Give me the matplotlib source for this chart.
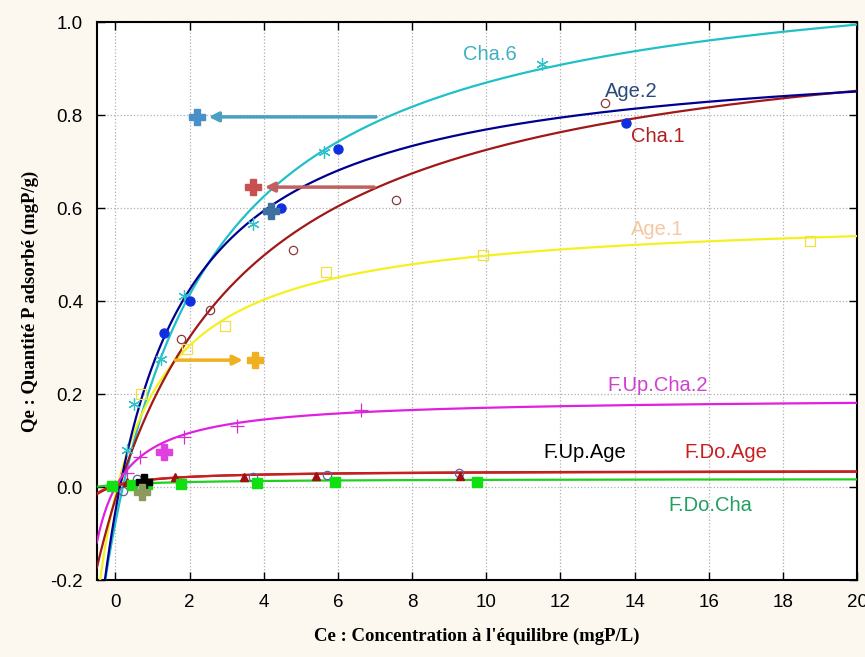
import numpy as np
import matplotlib.pyplot as plt

# points mesurés (Ce, Qe)
cha6_x = [0.3, 0.51, 1.24, 1.86, 3.7, 5.62, 11.49]
cha6_y = [0.08, 0.178, 0.275, 0.41, 0.566, 0.72, 0.91]
age2_x = [1.32, 2.0, 4.46, 6.0, 13.76]
age2_y = [0.331, 0.40, 0.60, 0.727, 0.783]
cha1_x = [1.78, 2.54, 4.78, 7.57, 13.2]
cha1_y = [0.318, 0.381, 0.51, 0.617, 0.826]
age1_x = [0.7, 1.92, 2.95, 5.68, 9.92, 18.73]
age1_y = [0.2, 0.297, 0.346, 0.462, 0.50, 0.529]
fupcha2_x = [0.3, 0.65, 1.86, 3.27, 6.62]
fupcha2_y = [0.03, 0.065, 0.107, 0.131, 0.166]
fupage_x = [0.2, 0.57, 3.7, 5.7, 9.25]
fupage_y = [-0.008, 0.017, 0.022, 0.025, 0.031]
fdoage_x = [0.32, 1.6, 3.46, 5.4, 9.3]
fdoage_y = [0.01, 0.021, 0.021, 0.024, 0.024]
fdocha_x = [-0.08, 0.46, 0.86, 1.78, 3.81, 5.92, 9.75]
fdocha_y = [0.002, 0.005, 0.006, 0.007, 0.009, 0.01, 0.01]

# ajustement Langmuir : Qm, K, C0
fit_cha6 = [1.157, 0.309, 0.2]
fit_age2 = [0.95, 0.43, 0.12]
fit_cha1 = [1.031, 0.2395, 0.1]
fit_age1 = [0.589, 0.548, 0.05]
fit_fupcha2 = [0.193, 0.762, 0.0]
fit_fupage = [0.036, 0.75, -0.1]
fit_fdoage = [0.035, 0.8, -0.15]
fit_fdocha = [0.018, 0.6, -0.6]

# croix épaisses + flèches (x, y)
cross_pts = [(2.19, 0.796), (3.7, 0.645), (4.2, 0.593), (3.76, 0.273),
             (1.3, 0.075), (0.77, 0.01), (0.72, -0.01)]
cross_col = ['#4a90c8', '#c85050', '#4070a0', '#f0b020',
             '#e040e0', '#000000', '#8a9a5a']
arrow_col = ['#4aa0c0', '#c06060', None, '#f0b020', None, None, None]
arrow_start = [(7.1, 0.796), (7.05, 0.645), None, (1.54, 0.273),
               None, None, None]


def langmuir(c, p):
    qm, k, c0 = p
    u = c - c0
    return qm * k * u / (1 + k * u)


plt.rcParams['font.family'] = ['Liberation Sans', 'DejaVu Sans']
fig = plt.figure(figsize=(8.65, 6.57), dpi=100, facecolor='#fcf8ef')
ax = fig.add_axes([0.112, 0.117, 0.879, 0.8495])
ax.set_facecolor('white')

xx = np.linspace(-0.5, 20, 600)
curves = [
    (fit_cha6, '#20c0c8'), (fit_age1, '#f5f020'), (fit_cha1, '#a01818'),
    (fit_age2, '#000090'), (fit_fupcha2, '#e020e0'), (fit_fdocha, '#20d020'),
    (fit_fupage, '#b01010'), (fit_fdoage, '#c82020'),
]
for p, col in curves:
    ax.plot(xx, langmuir(xx, p), color=col, lw=1.6, zorder=3)

ax.plot(cha6_x, cha6_y, ls='none', marker=(6, 2, 0), ms=9, mew=0.9,
        color='#30c0c8', zorder=4)
ax.plot(age2_x, age2_y, ls='none', marker='o', ms=6.5, color='#1030e0', zorder=4)
ax.plot(cha1_x, cha1_y, ls='none', marker='o', ms=6, mfc='none', mew=0.9,
        mec='#8b3a3a', zorder=4)
ax.plot(age1_x, age1_y, ls='none', marker='s', ms=7, mfc='none', mew=0.9,
        mec='#f0e040', zorder=4)
ax.plot(fupcha2_x, fupcha2_y, ls='none', marker='+', ms=10, mew=0.9,
        color='#d030d0', zorder=4)
ax.plot(fupage_x, fupage_y, ls='none', marker='o', ms=6, mfc='none', mew=0.9,
        mec='#6060a0', zorder=4)
ax.plot(fdoage_x, fdoage_y, ls='none', marker='^', ms=6, color='#a01010', zorder=4)
ax.plot(fdocha_x, fdocha_y, ls='none', marker='s', ms=7, color='#10e010', zorder=4)

for (cx, cy), col, acol, st in zip(cross_pts, cross_col, arrow_col, arrow_start):
    if st is not None:
        ax.annotate('', xy=(cx + (0.25 if st[0] > cx else -0.25), cy), xytext=st,
                    arrowprops=dict(arrowstyle='-|>', color=acol, lw=2.5,
                                    mutation_scale=14), zorder=5)
    ax.plot([cx], [cy], marker='P', ms=11, color=col, mec=col, zorder=6)

labels = [
    ('Cha.6', 9.38, 0.93, '#40b0c0'), ('Age.2', 13.2, 0.85, '#2a4a7a'),
    ('Cha.1', 13.9, 0.753, '#b02020'), ('Age.1', 13.9, 0.553, '#f5c8a0'),
    ('F.Up.Cha.2', 13.27, 0.219, '#d040d0'), ('F.Up.Age', 11.54, 0.075, '#000000'),
    ('F.Do.Age', 15.35, 0.075, '#c81e1e'), ('F.Do.Cha', 14.9, -0.039, '#20a060'),
]
for txt, lx, ly, col in labels:
    ax.text(lx, ly, txt, color=col, fontsize=14.5, va='center', ha='left', zorder=7)

ax.set_xlim(-0.5, 20)
ax.set_ylim(-0.2, 1.0)
ax.set_xticks(np.arange(0, 21, 2))
ax.set_yticks(np.arange(-0.2, 1.01, 0.2))
ax.set_yticklabels(['%.1f' % v for v in np.arange(-0.2, 1.01, 0.2)])
ax.tick_params(direction='in', top=True, right=True, length=6, width=1,
               labelsize=13.5, pad=10)
ax.grid(True, ls=':', color='#b0b0b0', lw=0.9)
for s in ax.spines.values():
    s.set_linewidth(1.5)

ax.set_xlabel("Ce : Concentration à l'équilibre (mgP/L)", family='Liberation Serif',
              fontweight='bold', fontsize=13.5, labelpad=12)
ax.set_ylabel('Qe : Quantité P adsorbé (mgP/g)', family='Liberation Serif',
              fontweight='bold', fontsize=13.5, labelpad=8)

plt.savefig('out.png', dpi=100, facecolor=fig.get_facecolor())
